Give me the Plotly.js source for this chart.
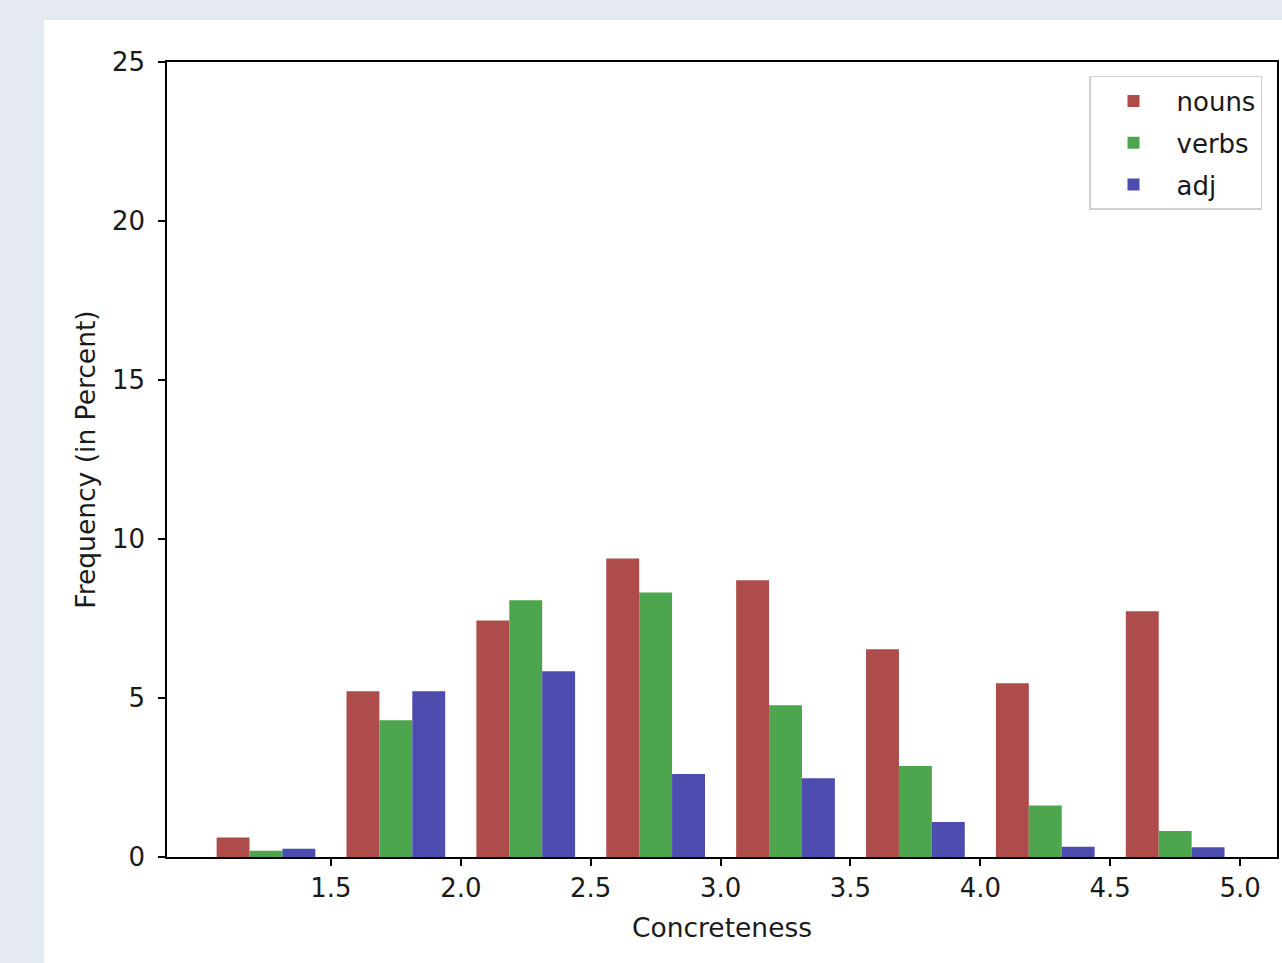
<!DOCTYPE html>
<html><head><meta charset="utf-8">
<script src="https://cdn.plot.ly/plotly-3.0.1.min.js"></script>
<style>
html,body{margin:0;padding:0;background:#e5e9f2;width:1282px;height:963px;overflow:hidden}
#chart{position:absolute;left:44px;top:20px;width:1238px;height:943px;background:#fff}
</style></head><body><div id="chart"></div>
<script>
const binCenters = [1.25, 1.75, 2.25, 2.75, 3.25, 3.75, 4.25, 4.75];
const nouns = [0.61, 5.21, 7.44, 9.39, 8.70, 6.53, 5.46, 7.73];
const verbs = [0.20, 4.30, 8.07, 8.32, 4.77, 2.86, 1.62, 0.82];
const adj   = [0.26, 5.21, 5.84, 2.61, 2.48, 1.10, 0.32, 0.31];
const seriesNames = ['nouns', 'verbs', 'adj'];
const seriesColors = ['rgb(174,76,76)', 'rgb(77,166,77)', 'rgb(76,76,174)'];
const xTickVals = [1.5, 2.0, 2.5, 3.0, 3.5, 4.0, 4.5, 5.0];
const xTickLabels = ['1.5', '2.0', '2.5', '3.0', '3.5', '4.0', '4.5', '5.0'];
const yTickVals = [0, 5, 10, 15, 20, 25];
const yTickLabels = ['0', '5', '10', '15', '20', '25'];

const FONT = 'DejaVu Sans, sans-serif';
const seriesValues = [nouns, verbs, adj];
const traces = seriesValues.map((vals, i) => ({
  type: 'bar',
  x: binCenters,
  y: vals,
  name: seriesNames[i],
  legendgroup: seriesNames[i],
  marker: {color: seriesColors[i], line: {width: 0}},
  hoverinfo: 'x+y+name'
}));

const axisCommon = {
  showline: true, mirror: true, linecolor: '#000', linewidth: 1.5,
  ticks: 'outside', ticklen: 7, tickwidth: 1.5, tickcolor: '#000',
  showgrid: false, zeroline: false,
  tickfont: {family: FONT, size: 26, color: '#1a1a1a'}
};

const layout = {
  width: 1238, height: 943,
  paper_bgcolor: '#ffffff', plot_bgcolor: '#ffffff',
  margin: {l: 123, r: 5, t: 42, b: 106},
  barmode: 'group', bargap: 0.24, bargroupgap: 0,
  font: {family: FONT, size: 26, color: '#1a1a1a'},
  xaxis: Object.assign({}, axisCommon, {
    range: [0.869, 5.142],
    tickmode: 'array', tickvals: xTickVals, ticktext: xTickLabels,
    ticklabelstandoff: 0,
    title: {text: 'Concreteness', font: {family: FONT, size: 26.5, color: '#1a1a1a'}, standoff: 16}
  }),
  yaxis: Object.assign({}, axisCommon, {
    range: [0, 25],
    tickmode: 'array', tickvals: yTickVals, ticktext: yTickLabels,
    ticklabelstandoff: 8,
    title: {text: 'Frequency (in Percent)', font: {family: FONT, size: 26.5, color: '#1a1a1a'}, standoff: 9}
  }),
  showlegend: true,
  legend: {
    x: 0.9865, y: 0.9824, xanchor: 'right', yanchor: 'top',
    bgcolor: 'rgba(255,255,255,0.8)', bordercolor: '#d0d0d0', borderwidth: 1.5,
    font: {family: FONT, size: 26, color: '#1a1a1a'},
    tracegroupgap: 5, traceorder: 'grouped', itemwidth: 76
  }
};

Plotly.newPlot('chart', traces, layout, {displayModeBar: false});
</script></body></html>
